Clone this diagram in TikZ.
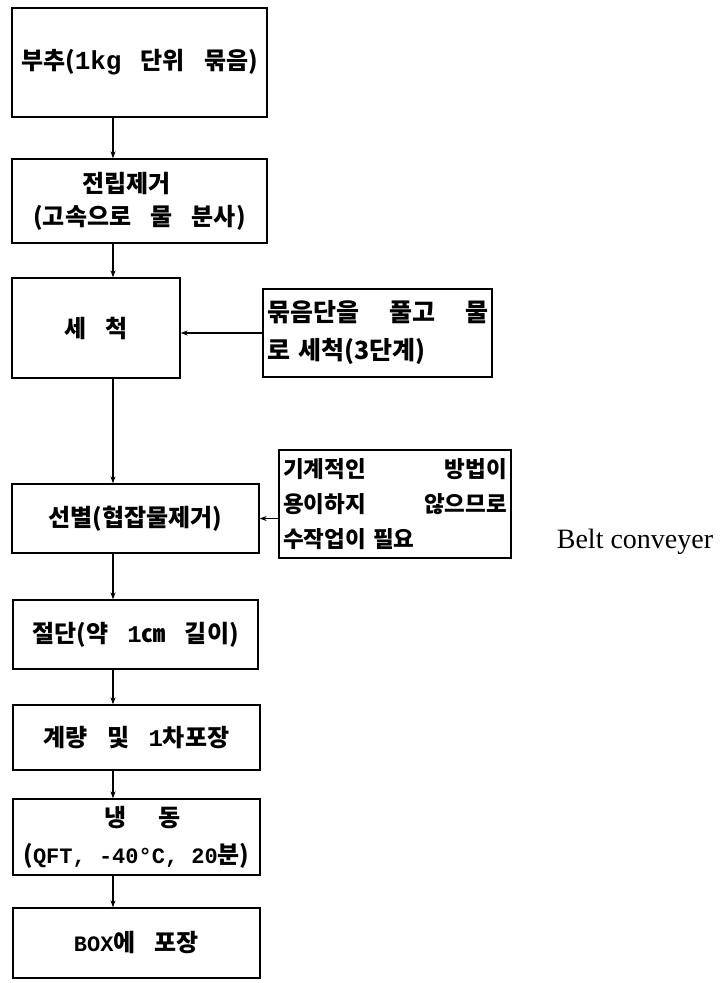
\documentclass[tikz,border=0pt]{standalone}
\usepackage{fontspec}
\setmainfont{Liberation Serif}
\newfontfamily\kr[WordSpace=3.5]{Noto Sans CJK KR}
\newfontfamily\mono{Liberation Mono}
\usetikzlibrary{arrows.meta}
\begin{document}
\begin{tikzpicture}[x=1pt,y=-1pt,
  box/.style={draw, line width=1.3pt, inner sep=0pt, align=center,
    font=\kr\bfseries\fontsize{24}{33}\selectfont},
  side/.style={draw, line width=1.3pt, inner xsep=4pt, inner ysep=0pt, align=left},
  arr/.style={line width=1.1pt, -{Stealth[length=7pt,width=5pt]}}]
\useasboundingbox (0,0) rectangle (723,983);
\node[box, minimum width=255pt, minimum height=109pt] (b1) at (139.5,62.5) {부추({\mono\fontsize{26}{33}\selectfont 1kg} 단위 묶음)};
\node[box, minimum width=255pt, minimum height=84pt] (b2) at (139.5,201) {전립제거\hspace*{26pt}\\(고속으로 물 분사)};
\node[box, minimum width=168pt, minimum height=100pt] (b3) at (96,328) {세 척};
\node[box, minimum width=247pt, minimum height=69pt] (b4) at (135.5,518.5) {선별(협잡물제거)};
\node[box, minimum width=245pt, minimum height=69pt] (b5) at (135.5,634.5) {절단(약 {\mono 1}㎝ 길이)};
\node[box, minimum width=247pt, minimum height=65pt] (b6) at (136.5,737.5) {계량 및 {\mono 1}차포장};
\node[box, minimum width=247pt, minimum height=76pt, font=\kr\bfseries\fontsize{24}{37}\selectfont] (b7) at (136.5,837) {\hspace*{12pt}냉\hspace{32pt}동\\({\mono\fontsize{22}{37}\selectfont QFT, -40°C, 20}분)};
\node[box, minimum width=247pt, minimum height=70pt] (b8) at (136.5,943) {{\mono\fontsize{22}{33}\selectfont BOX}에 포장};
\node[side, text width=221pt, minimum height=88pt, font=\kr\bfseries\fontsize{25}{38}\selectfont] (s1) at (377.5,333) {묶음단을\hfill 풀고\hfill 물\\로 세척(3단계)};
\node[side, text width=224pt, minimum height=108pt, font=\kr\bfseries\fontsize{22.5}{35}\selectfont] (s2) at (395,504) {기계적인\hfill 방법이\\용이하지\hfill 않으므로\\수작업이 필요};
\node[inner sep=0pt, font=\fontsize{28}{32}\selectfont] (belt) at (635,542) {Belt conveyer};
\coordinate (ax) at (113,0);
\draw[arr] (b1.south -| ax) -- (b2.north -| ax);
\draw[arr] (b2.south -| ax) -- (b3.north -| ax);
\draw[arr] (b3.south -| ax) -- (b4.north -| ax);
\draw[arr] (b4.south -| ax) -- (b5.north -| ax);
\draw[arr] (b5.south -| ax) -- (b6.north -| ax);
\draw[arr] (b6.south -| ax) -- (b7.north -| ax);
\draw[arr] (b7.south -| ax) -- (b8.north -| ax);
\draw[arr] (s1.west) -- (s1.west -| b3.east);
\draw[arr] (b4.east -| s2.west) -- (b4.east);
\end{tikzpicture}
\end{document}
